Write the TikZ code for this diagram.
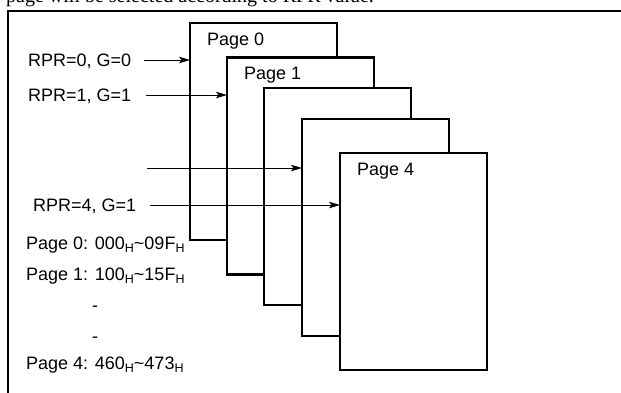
\documentclass[tikz,border=0pt]{standalone}
\usepackage{fontspec}
\setmainfont{Liberation Sans}
\newfontfamily\serifnote{Liberation Serif}
\usetikzlibrary{arrows.meta}
\newcommand\hsub{\raisebox{-3.8pt}{\fontsize{12.5}{12.5}\selectfont H}}
\begin{document}
\begin{tikzpicture}[x=1pt,y=-1pt,
  pagebox/.style={draw=black,fill=white,line width=2.6pt},
  lbl/.style={inner sep=0pt,anchor=base west,font=\fontsize{18}{18}\selectfont},
  arr/.style={-{Stealth[length=11pt,width=6.5pt,inset=2.5pt]},line width=0.9pt},
  frame/.style={line width=1.6pt}]
\useasboundingbox (0,0) rectangle (621,392);
\begin{scope}
\clip (0,0) rectangle (621,392);
% clipped caption line at top
\node[inner sep=0pt,anchor=base west,font=\serifnote\fontsize{20}{20}\selectfont] (cap) at (6,2) {page will be selected according to RPR value.};
% outer frame
\coordinate (fbl) at (8,400);
\coordinate (ftl) at (8,11);
\coordinate (ftr) at (630,11);
\draw[frame] (fbl) -- (ftl) -- (ftr);
% pages
\foreach \i/\x/\y in {0/190/23,1/227/57.5,2/264/88,3/302/119,4/340/153}{
  \draw[pagebox] (\x,\y) rectangle ++(147,217) coordinate (p\i br);
  \coordinate (p\i) at (\x,\y);
}
\node[lbl] (l0) at (207,45) {Page 0};
\node[lbl] (l1) at (244,79.5) {Page 1};
\node[lbl] (l4) at (357,175) {Page 4};
% arrow labels
\node[lbl] (r0) at (28,66.4) {RPR=0, G=0};
\node[lbl] (r1) at (28,101.4) {RPR=1, G=1};
\node[lbl] (r4) at (33,211.4) {RPR=4, G=1};
\coordinate (s0) at (144,60);  \coordinate (e0) at (190,60);
\coordinate (s1) at (146,95);  \coordinate (e1) at (227,95);
\coordinate (s3) at (147,168); \coordinate (e3) at (302,168);
\coordinate (s4) at (150,205); \coordinate (e4) at (340,205);
\draw[arr] (s0) -- (e0);
\draw[arr] (s1) -- (e1);
\draw[arr] (s3) -- (e3);
\draw[arr] (s4) -- (e4);
% address list
\node[lbl] (a0) at (26,249) {Page 0: 000\hsub\textasciitilde 09F\hsub};
\node[lbl] (a1) at (26,280) {Page 1: 100\hsub\textasciitilde 15F\hsub};
\node[lbl] (d1) at (92,311) {-};
\node[lbl] (d2) at (92,342) {-};
\node[lbl] (a4) at (26,369) {Page 4: 460\hsub\textasciitilde 473\hsub};
\end{scope}
\end{tikzpicture}
\end{document}
